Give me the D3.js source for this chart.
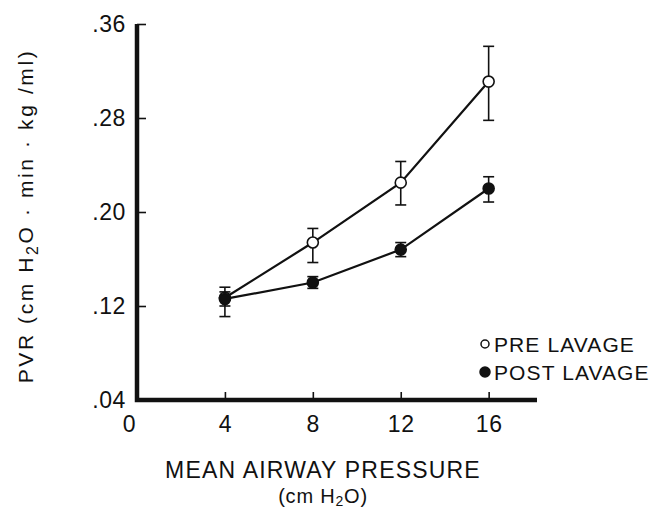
<!DOCTYPE html>
<html>
<head>
<meta charset="utf-8">
<script src="https://cdn.jsdelivr.net/npm/d3@7"></script>
<style>
  body { margin: 0; background: #fff; }
  text { font-family: "Liberation Sans", Arial, sans-serif; fill: #111; }
</style>
</head>
<body>
<svg id="chart" width="649" height="509"></svg>
<script>
// mean airway pressure, cm H2O
var pressures = [4, 8, 12, 16];
// PVR values and error bar ends
var preMean = [0.127, 0.174, 0.225, 0.311],
    preHi   = [0.136, 0.186, 0.243, 0.341],
    preLo   = [0.120, 0.157, 0.206, 0.278];
var postMean = [0.126, 0.140, 0.168, 0.220],
    postHi   = [0.132, 0.145, 0.174, 0.230],
    postLo   = [0.111, 0.135, 0.162, 0.2085];
var xTicks = [0, 4, 8, 12, 16],
    yTicks = [0.04, 0.12, 0.20, 0.28, 0.36];

var svg = d3.select("#chart");
var x = d3.scaleLinear().domain([0, 18.2]).range([137, 537]),
    y = d3.scaleLinear().domain([0.04, 0.36]).range([400, 24]);

var series = [
  {name: "PRE LAVAGE", fill: "#fff", m: preMean, hi: preHi, lo: preLo},
  {name: "POST LAVAGE", fill: "#111", m: postMean, hi: postHi, lo: postLo}
].map(s => ({name: s.name, fill: s.fill,
  pts: pressures.map((p, i) => ({p: p, m: s.m[i], hi: s.hi[i], lo: s.lo[i]}))}));

// axes
var yAx = svg.append("g").attr("transform", "translate(" + x(0) + ",0)")
  .call(d3.axisLeft(y).tickValues(yTicks).tickSizeInner(-9).tickSizeOuter(0).tickPadding(11)
    .tickFormat(d => d3.format(".2f")(d).replace(/^0/, "")));
var xAx = svg.append("g").attr("transform", "translate(0," + y(0.04) + ")")
  .call(d3.axisBottom(x).tickValues(xTicks).tickSizeInner(-8).tickSizeOuter(0).tickPadding(16)
    .tickFormat(d3.format("d")));
[yAx, xAx].forEach(g => {
  g.select(".domain").remove();
  g.selectAll(".tick line").attr("stroke", "#111").attr("stroke-width", 1.6);
  g.selectAll("text").attr("font-size", 23).attr("letter-spacing", 0.6)
    .style("font-family", "Liberation Sans, Arial, sans-serif").attr("fill", "#111");
});
xAx.selectAll(".tick").filter(d => d === 0).select("text").attr("x", -8);
svg.append("path")
  .attr("d", "M" + x(0) + "," + y(0.36) + "V" + y(0.04) + "H" + x(18.2))
  .attr("fill", "none").attr("stroke", "#111").attr("stroke-width", 4.5);

// data lines
var line = d3.line().x(d => x(d.p)).y(d => y(d.m));
var sg = svg.selectAll(".series").data(series).enter().append("g").attr("class", "series");
sg.append("path").attr("d", d => line(d.pts))
  .attr("fill", "none").attr("stroke", "#111").attr("stroke-width", 2.2);
var eb = sg.selectAll(".err").data(d => d.pts).enter().append("g").attr("class", "err")
  .attr("stroke", "#111").attr("stroke-width", 1.6);
eb.append("line").attr("x1", d => x(d.p)).attr("x2", d => x(d.p))
  .attr("y1", d => y(d.hi)).attr("y2", d => y(d.lo));
eb.append("line").attr("x1", d => x(d.p) - 5.5).attr("x2", d => x(d.p) + 5.5)
  .attr("y1", d => y(d.hi)).attr("y2", d => y(d.hi));
eb.append("line").attr("x1", d => x(d.p) - 5.5).attr("x2", d => x(d.p) + 5.5)
  .attr("y1", d => y(d.lo)).attr("y2", d => y(d.lo));
sg.each(function (s) {
  d3.select(this).selectAll("circle").data(s.pts).enter().append("circle")
    .attr("cx", d => x(d.p)).attr("cy", d => y(d.m)).attr("r", 5.5)
    .attr("fill", s.fill).attr("stroke", "#111").attr("stroke-width", 1.6);
});

// legend
var lg = svg.append("g").selectAll("g").data(series).enter().append("g")
  .attr("transform", (d, i) => "translate(485," + (344 + i * 28) + ")");
lg.append("circle").attr("r", d => d.fill === "#fff" ? 4 : 5)
  .attr("fill", d => d.fill).attr("stroke", "#111").attr("stroke-width", 1.5);
lg.append("text").attr("x", 9).attr("y", 8).attr("font-size", 21)
  .attr("letter-spacing", 1.1).text(d => d.name);

// axis titles
svg.append("text").attr("text-anchor", "middle").attr("font-size", 23)
  .attr("letter-spacing", 1.2).attr("x", 323).attr("y", 478).text("MEAN AIRWAY PRESSURE");
var xt2 = svg.append("text").attr("text-anchor", "middle").attr("font-size", 20)
  .attr("letter-spacing", 0.8).attr("x", 323).attr("y", 503);
xt2.append("tspan").text("(cm H");
xt2.append("tspan").attr("font-size", 14).attr("dy", 3).text("2");
xt2.append("tspan").attr("dy", -3).text("O)");

var yt = svg.append("text").attr("text-anchor", "middle").attr("font-size", 21)
  .attr("letter-spacing", 2.6).attr("transform", "translate(33,216) rotate(-90)");
yt.append("tspan").text("PVR (cm H");
yt.append("tspan").attr("font-size", 16).attr("dy", 5).text("2");
yt.append("tspan").attr("dy", -5).text("O \u00b7 min \u00b7 kg /ml)");
</script>
</body>
</html>
